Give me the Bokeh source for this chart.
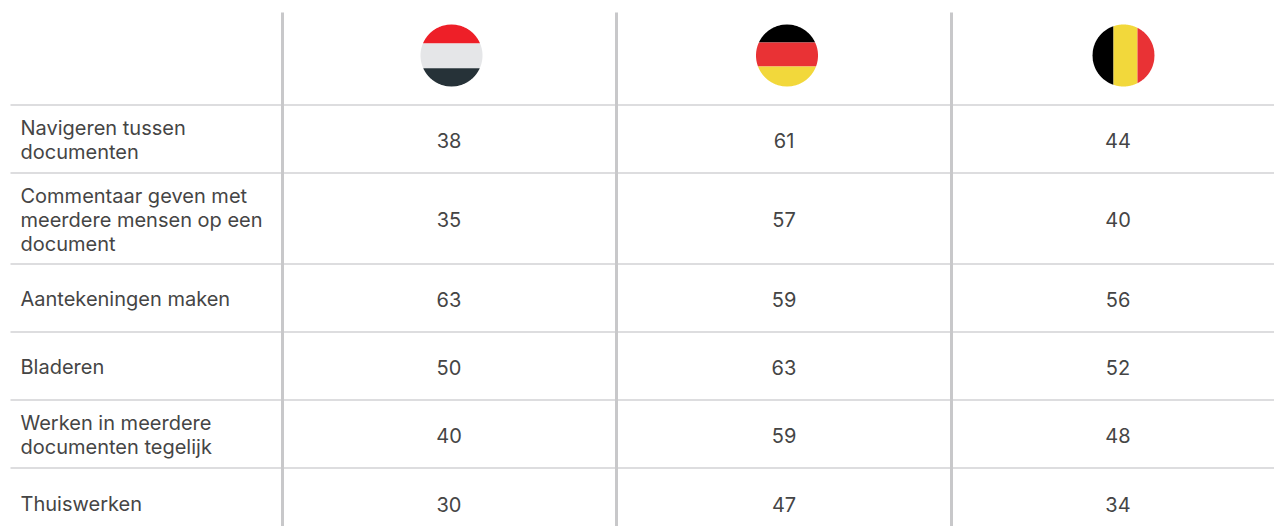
import numpy as np
from bokeh.plotting import figure
from bokeh.models import Range1d
from bokeh.core.properties import value
from bokeh.embed import file_html
from bokeh.resources import INLINE

rows = [
    ["Navigeren tussen", "documenten"],
    ["Commentaar geven met", "meerdere mensen op een", "document"],
    ["Aantekeningen maken"],
    ["Bladeren"],
    ["Werken in meerdere", "documenten tegelijk"],
    ["Thuiswerken"],
]
col_nl = [38, 35, 63, 50, 40, 30]
col_de = [61, 57, 59, 63, 59, 47]
col_be = [44, 40, 56, 52, 48, 34]

FONT = "Inter"
TEXT = "#454545"
row_lines = [104.5, 172.5, 263.5, 331.5, 399.5, 467.5]
row_bottom = row_lines[1:] + [535.5]
col_lines = [282, 616, 951]
col_x = [448.5, 783.5, 1117.5]

p = figure(width=1274, height=526, x_range=Range1d(0, 1274), y_range=Range1d(526, 0),
           output_backend="svg", toolbar_location=None, min_border=0, outline_line_color=None,
           background_fill_color="white", border_fill_color="white")
p.axis.visible = False
p.grid.visible = False

p.segment(x0=[10] * 6, x1=[1274] * 6, y0=row_lines, y1=row_lines, line_color="#d2d2d4", line_width=1.5)
p.segment(x0=col_lines, x1=col_lines, y0=[12] * 3, y1=[526] * 3, line_color="#c8c8ca", line_width=3)


def disc_band(cx, cy, r, lo, hi, horizontal):
    # part of a disc between two offsets from its centre
    a = np.linspace(lo, hi, 60)
    h = np.sqrt(np.maximum(r * r - a * a, 0))
    u = np.concatenate([a, a[::-1]])
    v = np.concatenate([h, -h[::-1]])
    return (cx + v, cy + u) if horizontal else (cx + u, cy + v)


R = 31
flags = [
    (451, 55, True, [(-31, -12, "#ee1f28"), (-12, 12.7, "#e5e6e8"), (12.7, 31, "#263238")]),
    (786.5, 55, True, [(-31, -13, "#000000"), (-13, 11, "#e93235"), (11, 31, "#f2d83b")]),
    (1123, 55, False, [(-31, -10, "#000000"), (-10, 14, "#f2d83b"), (14, 31, "#e93235")]),
]
for cx, cy, horiz, bands in flags:
    for lo, hi, c in bands:
        xs, ys = disc_band(cx, cy, R, lo, hi, horiz)
        p.patch(xs, ys, fill_color=c, line_color=None)

row_mid = [(row_lines[i] + row_bottom[i]) / 2 + 1 if i < 5 else 503.5 for i in range(6)]

# row labels
lx, ly, lt = [], [], []
for i, lines in enumerate(rows):
    for j, t in enumerate(lines):
        lx.append(20)
        ly.append(row_mid[i] + (j - (len(lines) - 1) / 2) * 24)
        lt.append(t)
p.text(lx, ly, text=lt, text_font=value(FONT), text_font_size="20px", text_color=TEXT,
       text_align="left", text_baseline="middle")

# values
for cx, col in zip(col_x, [col_nl, col_de, col_be]):
    p.text([cx] * 6, row_mid, text=[str(v) for v in col], text_font=value(FONT), text_font_size="20px",
           text_color=TEXT, text_align="center", text_baseline="middle")

open("out.html", "w").write(file_html(p, INLINE))
